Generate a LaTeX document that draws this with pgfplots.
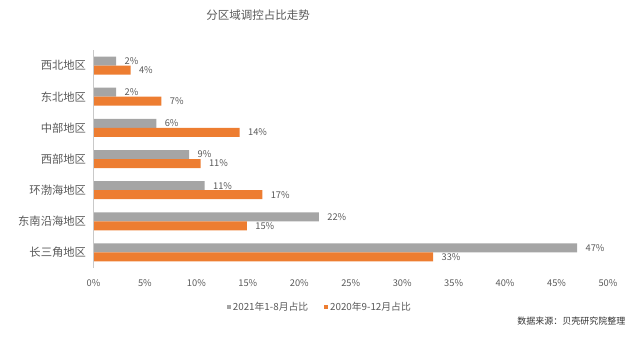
\documentclass[border=0pt]{standalone}
\usepackage{pgfplots}
\pgfplotsset{compat=1.18}
\usepackage{fontspec}
\setmainfont{Noto Sans CJK SC}
\definecolor{cgray}{HTML}{A5A5A5}
\definecolor{corange}{HTML}{ED7D31}
\definecolor{ctext}{HTML}{595959}
\begin{document}
\begin{tikzpicture}[x=1pt,y=1pt]
\useasboundingbox (0,0) rectangle (640,360);
\begin{axis}[
  at={(93.5pt,92pt)}, anchor=south west,
  width=514.5pt, height=218pt, scale only axis,
  xmin=0, xmax=50, ymin=-0.5, ymax=6.5,
  xtick={0,5,...,50},
  xticklabel={\pgfmathprintnumber{\tick}\%},
  /pgf/number format/assume math mode=true,
  ytick={0,...,6},
  yticklabels={长三角地区,东南沿海地区,环渤海地区,西部地区,中部地区,东北地区,西北地区},
  yticklabel style={font=\fontsize{11.3}{13}\selectfont, text=ctext, xshift=-4pt},
  xticklabel style={font=\fontsize{9.3}{11}\selectfont, text=ctext, yshift=-8pt},
  axis line style={draw=none},
  major tick length=0pt,
  xbar, bar width=9pt,
  nodes near coords,
  point meta=explicit symbolic,
  every node near coord/.append style={font=\fontsize{9.3}{11}\selectfont, text=ctext, anchor=west, xshift=5pt},
  legend style={at={(0.44,-0.179)}, anchor=center, draw=none, fill=none,
    font=\fontsize{9.8}{11}\selectfont, text=ctext, legend columns=2,
    /tikz/every even column/.append style={column sep=14pt}},
  legend image code/.code={\fill[#1] (0.5pt,-2pt) rectangle (4.5pt,2pt);},
  clip=false,
]
\addplot[fill=cgray, draw=none, bar shift=4.5pt] coordinates {
(47.0,0) [47\%]
(21.9,1) [22\%]
(10.8,2) [11\%]
(9.3,3) [9\%]
(6.1,4) [6\%]
(2.2,5) [2\%]
(2.2,6) [2\%]
};
\addplot[fill=corange, draw=none, bar shift=-4.5pt] coordinates {
(33.0,0) [33\%]
(14.9,1) [15\%]
(16.4,2) [17\%]
(10.4,3) [11\%]
(14.2,4) [14\%]
(6.6,5) [7\%]
(3.6,6) [4\%]
};
\legend{2021年1-8月占比, 2020年9-12月占比}
\draw[color=cgray!60, line width=0.6pt] (rel axis cs:0,0) -- (rel axis cs:0,1);
\end{axis}
\node[text=ctext, font=\fontsize{11.5}{13}\selectfont] at (258,345) {分区域调控占比走势};
\node[text=black!80, font=\fontsize{9}{11}\selectfont, anchor=east] at (629,39) {数据来源：贝壳研究院整理};
\end{tikzpicture}
\end{document}
